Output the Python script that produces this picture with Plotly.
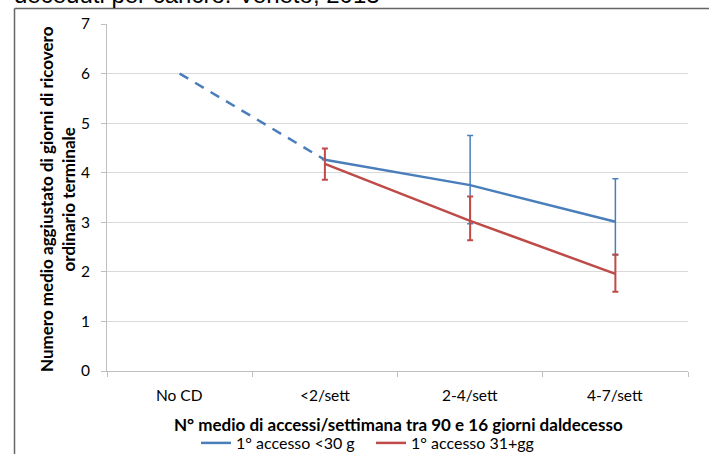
import plotly.graph_objects as go

categories = ["No CD", "<2/sett", "2-4/sett", "4-7/sett"]

# Series 1: 1° accesso <30 g
blue_dashed = [6.0, 4.26, None, None]
blue_solid = [None, 4.26, 3.75, 3.01]
blue_upper = [None, None, 4.75, 3.88]
blue_lower = [None, None, 2.97, 2.34]

# Series 2: 1° accesso 31+gg
red_vals = [None, 4.18, 3.03, 1.96]
red_upper = [None, 4.49, 3.52, 2.35]
red_lower = [None, 3.86, 2.64, 1.60]

y_ticks = [0, 1, 2, 3, 4, 5, 6, 7]

x_title = "N° medio di accessi/settimana tra 90 e 16 giorni daldecesso"
y_title = "Numero medio aggiustato di giorni di ricovero<br>ordinario terminale"
caption = "deceduti per cancro. Veneto, 2013"


def deltas(vals, bounds, up=True):
    out = []
    for v, b in zip(vals, bounds):
        if v is None or b is None:
            out.append(0)
        else:
            out.append((b - v) if up else (v - b))
    return out


BLUE = "#4a7ebb"
RED = "#be4b48"
FONT = "Lato"
REG = 15.5
BOLD = 17

fig = go.Figure()
fig.add_trace(go.Scatter(
    x=categories, y=blue_dashed, mode="lines",
    line=dict(color=BLUE, width=2.5, dash="10px,8px"),
    showlegend=False, hoverinfo="skip"))
fig.add_trace(go.Scatter(
    x=categories, y=blue_solid, mode="lines", name="1° accesso <30 g",
    line=dict(color=BLUE, width=2.5),
    error_y=dict(type="data", symmetric=False,
                 array=deltas(blue_solid, blue_upper, True),
                 arrayminus=deltas(blue_solid, blue_lower, False),
                 color=BLUE, thickness=1.5, width=3)))
fig.add_trace(go.Scatter(
    x=categories, y=red_vals, mode="lines", name="1° accesso 31+gg",
    line=dict(color=RED, width=2.5),
    error_y=dict(type="data", symmetric=False,
                 array=deltas(red_vals, red_upper, True),
                 arrayminus=deltas(red_vals, red_lower, False),
                 color=RED, thickness=2, width=3)))

L, R, T, B = 107, 22, 24, 84
W, H = 710, 455
pw, ph = W - L - R, H - T - B


def px_x(px):
    return (px - L) / pw


def px_y(py):
    return (H - B - py) / ph


fig.update_layout(
    width=W, height=H,
    margin=dict(l=L, r=R, t=T, b=B, autoexpand=False),
    paper_bgcolor="white", plot_bgcolor="white",
    font=dict(family=FONT, size=REG, color="#000000"),
    xaxis=dict(
        categoryorder="array", categoryarray=categories,
        range=[-0.5, 3.5], showgrid=False, automargin=False,
        showline=True, linecolor="#bfbfbf", linewidth=1,
        ticks="outside", ticklen=5, tickcolor="#bfbfbf",
        tickmode="array", tickvals=[-0.5, 0.5, 1.5, 2.5, 3.5],
        ticktext=["", "", "", "", ""],
        zeroline=False),
    yaxis=dict(
        range=[0, 7], tickvals=y_ticks, automargin=False,
        showgrid=True, gridcolor="#d9d9d9", gridwidth=1.3,
        showline=True, linecolor="#bfbfbf", linewidth=1,
        ticks="outside", ticklen=5, tickcolor="#bfbfbf",
        ticklabelstandoff=8,
        tickfont=dict(size=REG), zeroline=False),
    legend=dict(orientation="h", x=px_x(196), xanchor="left",
                y=px_y(443), yanchor="middle",
                font=dict(size=16), itemwidth=30, entrywidth=130,
                bgcolor="rgba(0,0,0,0)"),
    showlegend=True,
)

# category labels centered under each category
for c in categories:
    fig.add_annotation(x=c, xref="x", y=px_y(395), yref="paper",
                       text=c, showarrow=False, font=dict(size=REG),
                       xanchor="center", yanchor="middle")

# axis titles
fig.add_annotation(x=px_x(398), xref="paper", y=px_y(424), yref="paper",
                   text="<b>" + x_title + "</b>", showarrow=False,
                   font=dict(size=BOLD), xanchor="center", yanchor="middle")
fig.add_annotation(x=px_x(57), xref="paper", y=px_y(199), yref="paper",
                   text="<b>" + y_title + "</b>", showarrow=False, textangle=-90,
                   font=dict(size=BOLD), xanchor="center", yanchor="middle")

# cut-off caption at top
fig.add_annotation(x=px_x(12), xref="paper", y=px_y(10), yref="paper",
                   text=caption, showarrow=False,
                   xanchor="left", yanchor="bottom",
                   font=dict(family="Liberation Sans", size=24, color="#000000"))

# frame lines (left and top)
fig.add_shape(type="line", xref="paper", yref="paper", layer="above",
              x0=px_x(14.5), x1=px_x(W - 1), y0=px_y(8.5), y1=px_y(8.5),
              line=dict(color="#666666", width=1.5))
fig.add_shape(type="line", xref="paper", yref="paper", layer="above",
              x0=px_x(14.5), x1=px_x(14.5), y0=px_y(8.5), y1=px_y(H - 1),
              line=dict(color="#666666", width=1.5))

fig.write_html("out.html", config={"displayModeBar": False},
               post_script="document.body.style.margin='0px';")
